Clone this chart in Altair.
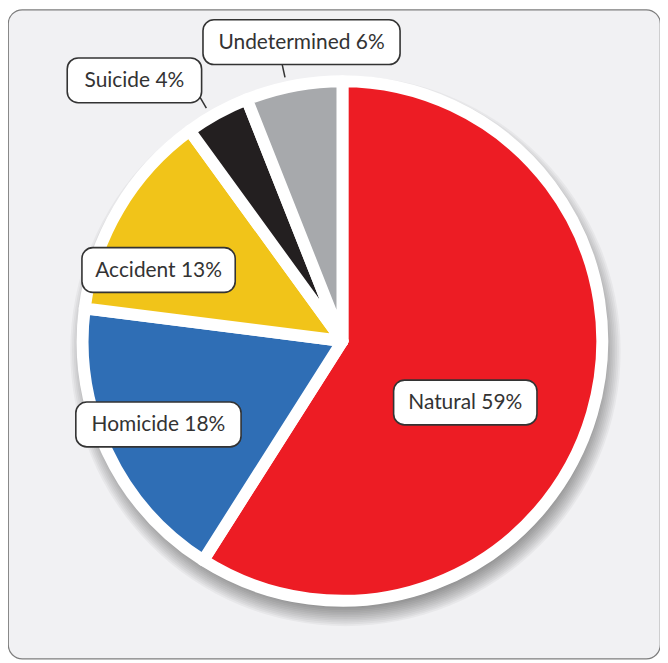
import altair as alt
import numpy as np
import pandas as pd

# ---- data ----
categories = ["Natural", "Homicide", "Accident", "Suicide", "Undetermined"]
values = [59, 18, 13, 4, 6]
colors = ["#ED1C24", "#2F6EB5", "#F1C419", "#231F20", "#A7A9AC"]

# ---- layout (styling / placement only) ----
CX, CY = 336, 333          # pie centre inside the view (px)
R_SLICE = 261              # slice outer radius (white stroke eats 6px)
R_WHITE = 271              # white rim
label_radius = [138, 203, 198, 335, 303]
label_nudge = [10.4, 0.8, -9.5, -9.8, 3.0]   # degrees
box_width = [144, 166, 154, 135, 198]
BOX_H = 45
FONT = "Lato"

pie_df = pd.DataFrame({"category": categories, "value": values,
                       "order": list(range(len(values)))})

# label placement derived from the slice mid-angles
vals = np.array(values, dtype=float)
cum = np.cumsum(vals)
mid = (cum - vals / 2) / vals.sum() * 360.0
ang = np.radians(mid + np.array(label_nudge))
lr = np.array(label_radius, dtype=float)
lx = CX + lr * np.sin(ang)
ly = CY - lr * np.cos(ang)
bw = np.array(box_width, dtype=float)
lab_df = pd.DataFrame({
    "text": [f"{c} {v}%" for c, v in zip(categories, values)],
    "x": lx, "y": ly,
    "x0": lx - bw / 2, "x1": lx + bw / 2,
    "y0": ly - BOX_H / 2, "y1": ly + BOX_H / 2,
})

# connectors for labels that sit outside the pie (radial near mid-angle)
outside = lr > R_WHITE
ma = np.radians(mid - 1.5)
con_df = pd.DataFrame({
    "x": CX + R_WHITE * np.sin(ma), "y": CY - R_WHITE * np.cos(ma),
    "x2": CX + 300 * np.sin(ma), "y2": CY - 300 * np.cos(ma),
})[outside]

# soft shadow made of stacked translucent discs
shadow_r = np.arange(272, 314, 2)
shadow_df = pd.DataFrame({"s": np.pi * shadow_r ** 2})

shadow = alt.Chart(shadow_df).mark_circle(color="#000000", opacity=0.04).encode(
    x=alt.value(CX + 3), y=alt.value(CY + 10),
    size=alt.Size("s:Q", scale=None, legend=None))

white = alt.Chart(pd.DataFrame({"s": [np.pi * R_WHITE ** 2]})).mark_circle(
    color="white", opacity=1).encode(
    x=alt.value(CX), y=alt.value(CY),
    size=alt.Size("s:Q", scale=None, legend=None))

arcs = alt.Chart(pie_df).mark_arc(
    outerRadius=R_SLICE, stroke="white", strokeWidth=12, strokeJoin="round"
).encode(
    theta=alt.Theta("value:Q", stack=True),
    color=alt.Color("category:N", scale=alt.Scale(domain=categories, range=colors), legend=None),
    order=alt.Order("order:Q"),
    x=alt.value(CX), y=alt.value(CY),
)

connectors = alt.Chart(con_df).mark_rule(color="#333333", strokeWidth=1.5).encode(
    x=alt.X("x:Q", scale=None, axis=None), y=alt.Y("y:Q", scale=None, axis=None),
    x2="x2:Q", y2="y2:Q")

boxes = alt.Chart(lab_df).mark_rect(
    fill="white", stroke="#333333", strokeWidth=1.6, cornerRadius=11
).encode(
    x=alt.X("x0:Q", scale=None, axis=None), x2="x1:Q",
    y=alt.Y("y0:Q", scale=None, axis=None), y2="y1:Q")

texts = alt.Chart(lab_df).mark_text(
    font=FONT, fontSize=21, color="#333333", align="center", baseline="middle", dy=1
).encode(
    x=alt.X("x:Q", scale=None, axis=None), y=alt.Y("y:Q", scale=None, axis=None),
    text="text:N")

chart = alt.layer(shadow, white, arcs, connectors, boxes, texts).properties(
    width=655, height=652, autosize="none", padding=0, background="white"
).configure_view(
    fill="#F1F1F3", stroke="#7D7D7D", strokeWidth=1.2, cornerRadius=14
)

chart.save("out.html", embed_options={"renderer": "svg", "actions": False})
